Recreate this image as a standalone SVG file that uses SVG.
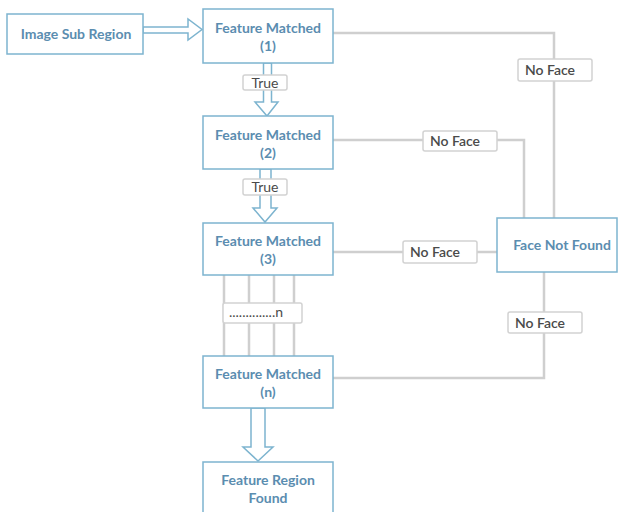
<svg xmlns="http://www.w3.org/2000/svg" width="622" height="512" viewBox="0 0 622 512">
<style>
.box{fill:#fff;stroke:#7db4cf;stroke-width:1.5}
.bt{font-family:Lato,"Open Sans",sans-serif;font-weight:bold;font-size:14px;fill:#5b8db0;text-anchor:middle}
.conn{fill:none;stroke:#cfcfcf;stroke-width:2.5}
.lbl{fill:#fff;stroke:#d2d2d2;stroke-width:1.5}
.lt{font-family:Lato,"Open Sans",sans-serif;font-size:14px;fill:#4a4a4a;text-anchor:middle;font-weight:600}
.arr{fill:#fff;stroke:#7db4cf;stroke-width:1.5;stroke-linejoin:miter}
</style>
<rect width="622" height="512" fill="#fff"/>
<g id="connectors">
<polyline class="conn" points="333,33 554,33 554,218"/>
<polyline class="conn" points="333,140 524,140 524,218"/>
<line class="conn" x1="333" y1="252" x2="497" y2="252"/>
<polyline class="conn" points="544,272 544,378 333,378"/>
<line class="conn" x1="224" y1="275" x2="224" y2="356"/>
<line class="conn" x1="249" y1="275" x2="249" y2="356"/>
<line class="conn" x1="274" y1="275" x2="274" y2="356"/>
<line class="conn" x1="294" y1="275" x2="294" y2="356"/>
<polygon class="arr" points="143,27 188,27 188,19 202,29.5 188,40 188,33 143,33"/>
<polygon class="arr" points="263.5,63 271.5,63 271.5,102 278,102 267,116 255,102 263.5,102"/>
<polygon class="arr" points="260,169 271,169 271,208 277,208 265,222 253,208 260,208"/>
<polygon class="arr" points="251,408 265,408 265,447 273,447 258,461 243,447 251,447"/>
<g id="l1"><rect class="lbl" x="243" y="75" width="44" height="15" rx="2"/><text class="lt" x="265" y="87.5" style="font-weight:normal">True</text></g>
<g id="l2"><rect class="lbl" x="243" y="179" width="44" height="16" rx="2"/><text class="lt" x="265" y="192" style="font-weight:normal">True</text></g>
<g id="l3"><rect class="lbl" x="518" y="59" width="74" height="22" rx="2"/><text class="lt" x="550" y="75">No Face</text></g>
<g id="l4"><rect class="lbl" x="423" y="131" width="74" height="20" rx="2"/><text class="lt" x="455" y="146">No Face</text></g>
<g id="l5"><rect class="lbl" x="403" y="241" width="74" height="22" rx="2"/><text class="lt" x="435" y="257">No Face</text></g>
<g id="l6"><rect class="lbl" x="508" y="312" width="74" height="21" rx="2"/><text class="lt" x="540" y="328">No Face</text></g>
<g id="l7"><rect class="lbl" x="223" y="303" width="79" height="20" rx="2"/><text class="lt" x="256" y="317" style="font-weight:normal">..............n</text></g>
</g>
<g id="n0"><rect class="box" x="7" y="14" width="136" height="40"/><text class="bt" x="76" y="39">Image Sub Region</text></g>
<g id="n1"><rect class="box" x="203" y="9" width="130" height="54"/><text class="bt" x="268" y="33">Feature Matched</text><text class="bt" x="268" y="51">(1)</text></g>
<g id="n2"><rect class="box" x="203" y="116" width="130" height="53"/><text class="bt" x="268" y="140">Feature Matched</text><text class="bt" x="268" y="158">(2)</text></g>
<g id="n3"><rect class="box" x="203" y="223" width="130" height="52"/><text class="bt" x="268" y="246">Feature Matched</text><text class="bt" x="268" y="264">(3)</text></g>
<g id="nn"><rect class="box" x="203" y="356" width="130" height="52"/><text class="bt" x="268" y="379">Feature Matched</text><text class="bt" x="268" y="397">(n)</text></g>
<g id="nf"><rect class="box" x="497" y="218" width="120" height="54"/><text class="bt" x="562" y="250">Face Not Found</text></g>
<g id="nr"><rect class="box" x="203" y="462" width="130" height="60"/><text class="bt" x="268" y="485">Feature Region</text><text class="bt" x="268" y="503">Found</text></g>
</svg>
